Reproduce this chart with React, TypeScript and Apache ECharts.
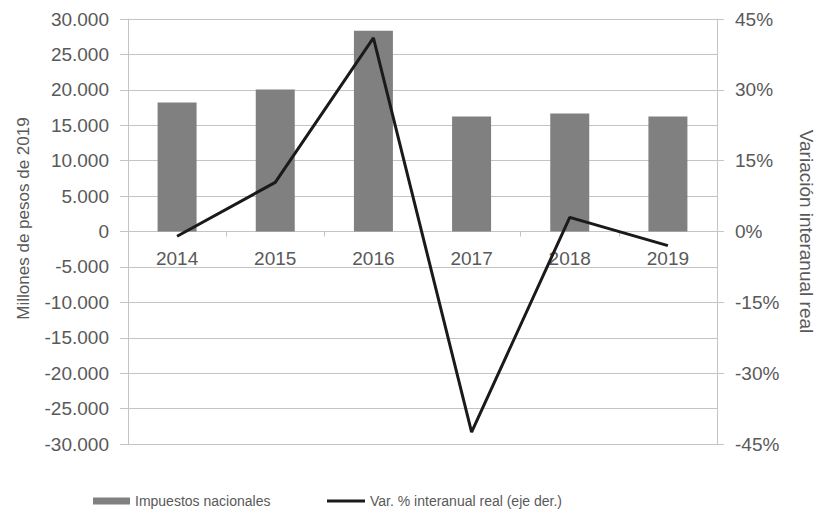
import React, { useEffect, useRef } from "react";
import * as echarts from "echarts";

const years = ["2014", "2015", "2016", "2017", "2018", "2019"];
const impuestos = [18200, 20050, 28350, 16250, 16650, 16250];
const variacion = [-1.0, 10.4, 41.0, -42.5, 3.0, -3.0];
const barName = "Impuestos nacionales";
const lineName = "Var. % interanual real (eje der.)";
const leftName = "Millones de pesos de 2019";
const rightName = "Variación interanual real";

const fmtThousands = (v: number) => {
  const s = Math.abs(v).toString().replace(/\B(?=(\d{3})+(?!\d))/g, ".");
  return (v < 0 ? "-" : "") + s;
};

const FONT = "Liberation Sans";
const TXT = "#595959";
const GRID = "#c4c4c4";

export default function App() {
  const ref = useRef<HTMLDivElement>(null);
  useEffect(() => {
    if (!ref.current) return;
    const chart = echarts.init(ref.current, undefined, { renderer: "svg" });
    chart.setOption({
      animation: false,
      backgroundColor: "#ffffff",
      textStyle: { fontFamily: FONT },
      grid: { left: 128, right: 97, top: 19, bottom: 68, containLabel: false },
      legend: [
        {
          data: [barName],
          left: 88,
          top: 489,
          icon: "rect",
          itemWidth: 37,
          itemHeight: 7,
          itemGap: 5,
          textStyle: { fontFamily: FONT, fontSize: 14, color: TXT },
        },
        {
          data: [lineName],
          left: 322,
          top: 489,
          icon: "rect",
          itemWidth: 38,
          itemHeight: 3,
          textStyle: { fontFamily: FONT, fontSize: 14, color: TXT },
        },
      ],
      xAxis: {
        type: "category",
        data: years,
        position: "bottom",
        offset: -212.5,
        axisLine: { onZero: false, lineStyle: { color: GRID, width: 1 } },
        axisTick: { show: true, length: 5, lineStyle: { color: GRID } },
        axisLabel: { fontFamily: FONT, fontSize: 19, color: TXT, margin: 17 },
        splitLine: { show: false },
      },
      yAxis: [
        {
          type: "value",
          min: -30000,
          max: 30000,
          interval: 5000,
          name: leftName,
          nameLocation: "middle",
          nameRotate: 90,
          nameGap: 96,
          nameTextStyle: { fontFamily: FONT, fontSize: 17, color: TXT, padding: [0, 0, 0, 26] },
          axisLine: { show: true, lineStyle: { color: GRID, width: 1 } },
          axisTick: { show: true, length: 8, lineStyle: { color: GRID } },
          axisLabel: {
            fontFamily: FONT,
            fontSize: 19,
            color: TXT,
            margin: 19,
            formatter: (v: number) => fmtThousands(v),
          },
          splitLine: { show: true, lineStyle: { color: GRID, width: 1 } },
        },
        {
          type: "value",
          min: -45,
          max: 45,
          interval: 15,
          position: "right",
          name: rightName,
          nameLocation: "middle",
          nameRotate: -90,
          nameGap: 80,
          nameTextStyle: { fontFamily: FONT, fontSize: 19, color: TXT },
          axisLine: { show: true, lineStyle: { color: GRID, width: 1 } },
          axisTick: { show: true, length: 7, lineStyle: { color: GRID } },
          axisLabel: {
            fontFamily: FONT,
            fontSize: 19,
            color: TXT,
            margin: 18,
            formatter: "{value}%",
          },
          splitLine: { show: false },
        },
      ],
      series: [
        {
          name: barName,
          type: "bar",
          data: impuestos,
          barWidth: 39,
          itemStyle: { color: "#808080" },
          yAxisIndex: 0,
        },
        {
          name: lineName,
          type: "line",
          data: variacion,
          yAxisIndex: 1,
          symbol: "none",
          color: "#1a1a1a",
          lineStyle: { color: "#1a1a1a", width: 3 },
          z: 5,
        },
      ],
    });
    return () => chart.dispose();
  }, []);
  return <div ref={ref} style={{ width: 824, height: 512, marginLeft: -8, marginTop: -8 }} />;
}
